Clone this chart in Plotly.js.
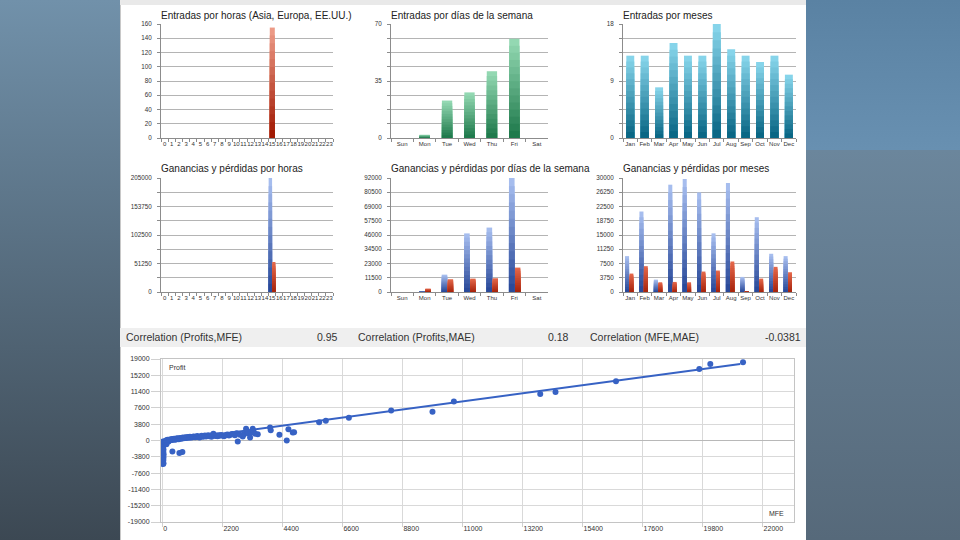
<!DOCTYPE html>
<html><head><meta charset="utf-8">
<script src="https://cdn.plot.ly/plotly-3.0.1.min.js"></script>
<style>
html,body{margin:0;padding:0;width:960px;height:540px;overflow:hidden;background:#4d5d6b;}
#bgL{position:absolute;left:0;top:0;width:120px;height:540px;background:linear-gradient(to bottom,#7191aa,#3c4853);}
#bgRT{position:absolute;left:806px;top:0;width:154px;height:150px;background:linear-gradient(to bottom,#5a82a3,#6890b1);}
#bgRB{position:absolute;left:806px;top:150px;width:154px;height:390px;background:linear-gradient(to bottom,#6b869c,#56697a);}
#panel{position:absolute;left:120px;top:0;width:686px;height:540px;background:#fff;box-shadow:inset 1px 0 0 #c8c8c8;}
#topstrip{position:absolute;left:120px;top:0;width:686px;height:5px;background:#e9e9e9;}
#corr{position:absolute;left:120px;top:328px;width:686px;height:19px;background:#efefef;}
#chart{position:absolute;left:0;top:0;width:960px;height:540px;}
</style></head>
<body>
<div id="bgL"></div><div id="bgRT"></div><div id="bgRB"></div>
<div id="panel"></div><div id="topstrip"></div><div id="corr"></div>
<div id="chart"></div>
<script>
// ---------- data ----------
const hours = ['0','1','2','3','4','5','6','7','8','9','10','11','12','13','14','15','16','17','18','19','20','21','22','23'];
const entradasHoras = [0,0,0,0,0,0,0,0,0,0,0,0,0,0,0,155,0,0,0,0,0,0,0,0];
const days = ['Sun','Mon','Tue','Wed','Thu','Fri','Sat'];
const entradasDias = [0,2,23,28,41,61,0];
const months = ['Jan','Feb','Mar','Apr','May','Jun','Jul','Aug','Sep','Oct','Nov','Dec'];
const entradasMeses = [13,13,8,15,13,13,18,14,13,12,13,10];

const gananciasHoras = [0,0,0,0,0,0,0,0,0,0,0,0,0,0,0,205000,0,0,0,0,0,0,0,0];
const perdidasHoras  = [0,0,0,0,0,0,0,0,0,0,0,0,0,0,0,54000,0,0,0,0,0,0,0,0];
const gananciasDias = [0,800,14000,47300,52000,92000,0];
const perdidasDias  = [0,2700,10300,10800,11100,19700,0];
const gananciasMeses = [9440,21180,3260,28240,29740,26200,15440,28680,3970,19680,10060,9440];
const perdidasMeses  = [4850,6790,2560,2650,2560,5380,5650,8030,260,3530,6620,5200];

// y-axis ticks
const tvHorasE = [0,20,40,60,80,100,120,140,160];
const ttHorasE = ['0','20','40','60','80','100','120','140','160'];
const tvDiasE = [0,8.75,17.5,26.25,35,43.75,52.5,61.25,70];
const ttDiasE = ['0','','','','35','','','','70'];
const tvMesesE = [0,2.25,4.5,6.75,9,11.25,13.5,15.75,18];
const ttMesesE = ['0','','','','9','','','','18'];
const tvHorasG = [0,25625,51250,76875,102500,128125,153750,179375,205000];
const ttHorasG = ['0','','51250','','102500','','153750','','205000'];
const tvDiasG = [0,11500,23000,34500,46000,57500,69000,80500,92000];
const ttDiasG = ['0','11500','23000','34500','46000','57500','69000','80500','92000'];
const tvMesesG = [0,3750,7500,11250,15000,18750,22500,26250,30000];
const ttMesesG = ['0','3750','7500','11250','15000','18750','22500','26250','30000'];

// scatter MFE vs Profit
const mfe = [15,20,25,30,35,40,25,45,30,25,40,20,35,30,25,40,30,50,20,30,100,150,368,624,734,
  60,90,110,130,150,170,190,210,230,250,270,290,320,340,360,380,410,430,460,480,510,540,570,600,630,660,690,720,750,780,
  820,850,880,910,940,980,1010,1040,1080,1120,1160,1200,1240,1280,1320,1360,1400,1440,1480,1520,1560,1600,1640,1680,1720,1760,1800,
  1840,1870,1900,1940,1980,2020,2060,2100,2150,2200,2260,2320,2380,2440,2500,2560,2604,2660,2720,2763,2840,2946,2995,
  3068,3093,3150,3215,3252,3313,3337,3400,3496,3948,3972,4290,4559,4620,4779,4828,
  5746,5991,6835,8386,9900,10684,13849,14410,16625,19679,20082,21281];
const profit = [-1777,-1000,-2400,-1400,-2700,-2100,-2940,-3200,-3480,-3700,-3950,-4200,-4490,-4750,-5030,-5300,-5500,-600,-250,-800,-700,-900,-2553,-2940,-2707,
  -300,-150,-450,-200,50,-100,150,80,-250,200,120,260,180,300,90,350,250,400,320,180,450,380,520,300,480,600,420,550,680,500,
  620,750,580,700,820,640,900,760,680,850,960,780,900,1020,840,700,960,1080,880,1000,1150,920,1050,1200,980,1100,900,
  1300,1560,1250,1050,1150,980,1200,1080,1300,1150,1000,1250,1400,1180,1350,1500,1480,1250,1700,-230,1350,940,1480,
  2720,2260,1700,700,1870,2720,2260,1600,1480,3030,2410,1330,0,2640,1870,1950,
  4282,4584,5282,6981,6680,9075,10867,11332,13822,16684,17848,18243];
const trendX = [0, 21180];
const trendY = [-300, 17850];
const xTicks = [0,2200,4400,6600,8800,11000,13200,15400,17600,19800,22000];
const xTickText = ['0','2200','4400','6600','8800','11000','13200','15400','17600','19800','22000'];
const yTicks = [-19000,-15200,-11400,-7600,-3800,0,3800,7600,11400,15200,19000];
const yTickText = ['-19000','-15200','-11400','-7600','-3800','0','3800','7600','11400','15200','19000'];

// ---------- helpers ----------
function hex2rgb(h){return [parseInt(h.slice(1,3),16),parseInt(h.slice(3,5),16),parseInt(h.slice(5,7),16)];}
function mix(a,b,t){const A=hex2rgb(a),B=hex2rgb(b);return 'rgb('+A.map((v,i)=>Math.round(v+(B[i]-v)*t)).join(',')+')';}
function gradBars(x,y,xa,ya,top,bottom,width,offset){
  const N=14,out=[];
  for(let k=0;k<N;k++){
    const f=1-k/N;
    out.push({type:'bar',x:x,y:y.map(v=>v*f),xaxis:xa,yaxis:ya,width:width,offset:offset,
      marker:{color:mix(top,bottom,k/(N-1)),line:{width:0}},hoverinfo:'skip',showlegend:false});
  }
  return out;
}
const W=960,H=540;
const dx=(a,b)=>[a/W,b/W];
const dy=(t,b)=>[1-b/H,1-t/H];
const FONT='Liberation Sans, Arial, sans-serif';
function catX(dom,n,anchor){
  return {domain:dom,anchor:anchor,type:'category',range:[-0.5,n-0.5],showline:true,linecolor:'#8c8c8c',linewidth:1,
    ticks:'outside',tickson:'boundaries',ticklen:3,tickcolor:'#8c8c8c',tickangle:0,showgrid:false,zeroline:false,
    tickfont:{size:6,color:'#333',family:FONT},fixedrange:true};
}
function valY(dom,max,tv,tt,anchor){
  return {domain:dom,anchor:anchor,range:[0,max],tickvals:tv,ticktext:tt,showline:true,linecolor:'#8c8c8c',linewidth:1,
    ticks:'outside',ticklen:3,tickcolor:'#8c8c8c',gridcolor:'#b4b4b4',gridwidth:1,zeroline:false,ticklabelstandoff:4,
    tickfont:{size:6.3,color:'#333',family:FONT},fixedrange:true};
}

// ---------- traces ----------
let data=[];
data=data.concat(gradBars(hours,entradasHoras,'x','y','#ec9a86','#a11a04',0.7,-0.32));
data=data.concat(gradBars(days,entradasDias,'x2','y2','#93d8b2','#1f7a4c',0.46,-0.23));
data=data.concat(gradBars(months,entradasMeses,'x3','y3','#86d4ea','#0a6785',0.55,-0.27));
data=data.concat(gradBars(hours,gananciasHoras,'x4','y4','#a6bdee','#2a4a9a',0.48,-0.48));
data=data.concat(gradBars(hours,perdidasHoras,'x4','y4','#e4674a','#a8250d',0.45,0.02));
data=data.concat(gradBars(days,gananciasDias,'x5','y5','#a6bdee','#2a4a9a',0.25,-0.24));
data=data.concat(gradBars(days,perdidasDias,'x5','y5','#e4674a','#a8250d',0.24,0.03));
data=data.concat(gradBars(months,gananciasMeses,'x6','y6','#a6bdee','#2a4a9a',0.28,-0.36));
data=data.concat(gradBars(months,perdidasMeses,'x6','y6','#e4674a','#a8250d',0.27,-0.05));
data.push({type:'scatter',mode:'markers',x:mfe,y:profit,xaxis:'x7',yaxis:'y7',
  marker:{color:'#3762c4',size:6},hoverinfo:'skip',showlegend:false});
data.push({type:'scatter',mode:'lines',x:trendX,y:trendY,xaxis:'x7',yaxis:'y7',
  line:{color:'#3762c4',width:2},hoverinfo:'skip',showlegend:false});

// ---------- layout ----------
const r1=dy(24,138), r2=dy(178,292);
const c1=dx(161,333), c2=dx(391,548), c3=dx(623,796);
const ttl=(t,x,y)=>({text:t,x:x/W,y:1-y/H,xref:'paper',yref:'paper',xanchor:'left',yanchor:'middle',showarrow:false,
  font:{size:10,color:'#222',family:FONT}});
const txt=(t,x,y,anchor,size)=>({text:t,x:x/W,y:1-y/H,xref:'paper',yref:'paper',xanchor:anchor,yanchor:'middle',showarrow:false,
  font:{size:size,color:'#333',family:FONT}});
const layout={
  width:W,height:H,margin:{l:0,r:0,t:0,b:0},paper_bgcolor:'rgba(0,0,0,0)',plot_bgcolor:'rgba(0,0,0,0)',
  barmode:'overlay',showlegend:false,font:{family:FONT},
  xaxis:catX(c1,24,'y'), yaxis:valY(r1,160,tvHorasE,ttHorasE,'x'),
  xaxis2:catX(c2,7,'y2'), yaxis2:valY(r1,70,tvDiasE,ttDiasE,'x2'),
  xaxis3:catX(c3,12,'y3'), yaxis3:valY(r1,18,tvMesesE,ttMesesE,'x3'),
  xaxis4:catX(c1,24,'y4'), yaxis4:valY(r2,205000,tvHorasG,ttHorasG,'x4'),
  xaxis5:catX(c2,7,'y5'), yaxis5:valY(r2,92000,tvDiasG,ttDiasG,'x5'),
  xaxis6:catX(c3,12,'y6'), yaxis6:valY(r2,30000,tvMesesG,ttMesesG,'x6'),
  xaxis7:{domain:dx(161,794),anchor:'y7',range:[-50,23150],tickvals:xTicks,ticktext:xTickText,showline:true,mirror:true,linecolor:'#c4c4c4',
    gridcolor:'#d9d9d9',zeroline:false,ticks:'outside',ticklen:4,tickcolor:'#d0d0d0',ticklabelposition:'outside right',
    tickfont:{size:7,color:'#333',family:FONT},fixedrange:true},
  yaxis7:{domain:dy(359,522),anchor:'x7',range:[-19000,19000],tickvals:yTicks,ticktext:yTickText,showline:true,mirror:true,linecolor:'#c4c4c4',
    gridcolor:'#d9d9d9',zeroline:true,zerolinecolor:'#b8b8b8',zerolinewidth:1,ticks:'outside',ticklen:9,tickcolor:'#d0d0d0',
    tickfont:{size:7,color:'#333',family:FONT},fixedrange:true},
  annotations:[
    ttl('Entradas por horas (Asia, Europa, EE.UU.)',159,15),
    ttl('Entradas por días de la semana',389,15),
    ttl('Entradas por meses',621,15),
    ttl('Ganancias y pérdidas por horas',159,169),
    ttl('Ganancias y pérdidas por días de la semana',389,169),
    ttl('Ganancias y pérdidas por meses',621,169),
    txt('Correlation (Profits,MFE)',124,337,'left',10.5),
    txt('0.95',340,337,'right',10.5),
    txt('Correlation (Profits,MAE)',356,337,'left',10.5),
    txt('0.18',571,337,'right',10.5),
    txt('Correlation (MFE,MAE)',588,337,'left',10.5),
    txt('-0.0381',803,337,'right',10.5),
    txt('Profit',167,367,'left',7),
    txt('MFE',786,513,'right',7)
  ]
};
Plotly.newPlot('chart',data,layout,{staticPlot:true,displayModeBar:false});
</script>
</body></html>
